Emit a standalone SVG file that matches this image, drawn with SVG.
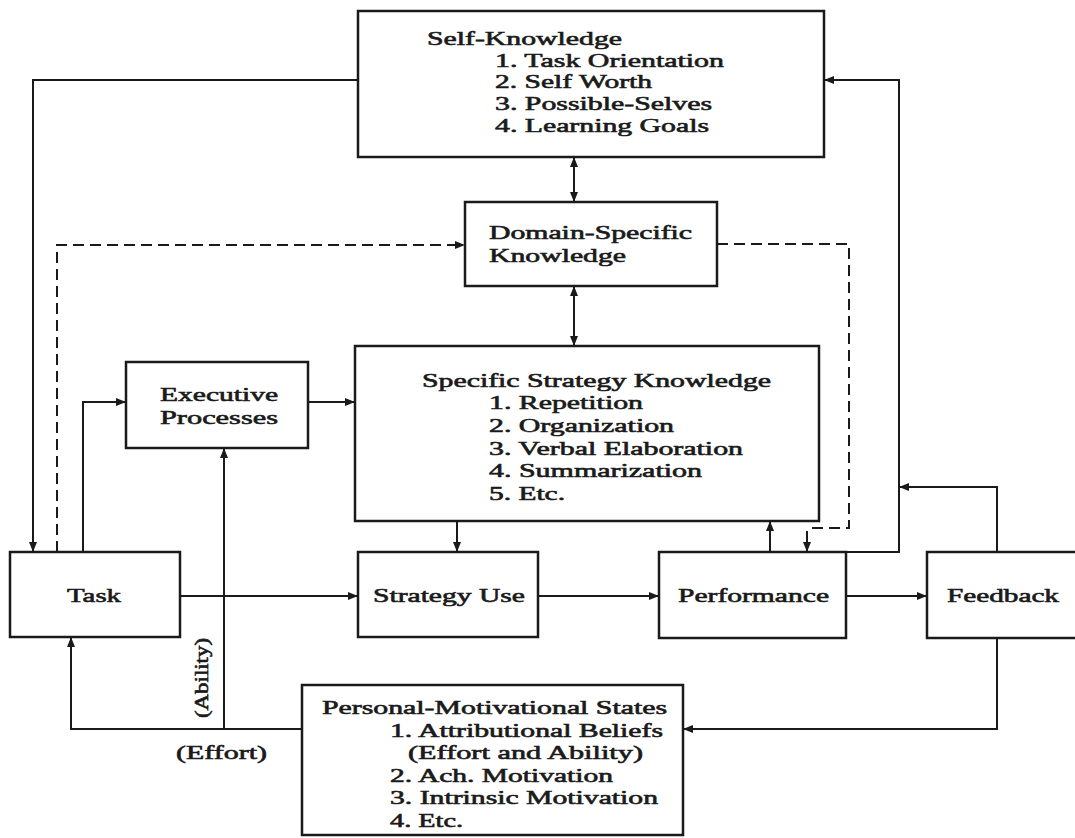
<svg xmlns="http://www.w3.org/2000/svg" width="1075" height="838" viewBox="0 0 1075 838">
<style>
.box{fill:#fff;stroke:#1a1a1a;stroke-width:2.5}
.ln{fill:none;stroke:#1a1a1a;stroke-width:2}
.dash{stroke-dasharray:11 6}
text{font-family:"Liberation Serif","Times New Roman",serif;font-size:19px;font-weight:normal;fill:#1a1a1a;stroke:#1a1a1a;stroke-width:0.6}
</style>
<defs>
<marker id="ah" viewBox="0 0 10 8" markerWidth="10" markerHeight="8" refX="10" refY="4" orient="auto-start-reverse" markerUnits="userSpaceOnUse">
<path d="M0,0 L10,4 L0,8 z" fill="#1a1a1a"/>
</marker>
</defs>
<rect width="1075" height="838" fill="#fff"/>
<g id="connectors">
<path class="ln" d="M358,80 H33 V552" marker-end="url(#ah)"/>
<path class="ln dash" d="M57,552 V245 H465" marker-end="url(#ah)"/>
<path class="ln" d="M83,552 V402 H126" marker-end="url(#ah)"/>
<path class="ln" d="M308,402 H355" marker-end="url(#ah)"/>
<path class="ln" d="M574,157 V202" marker-start="url(#ah)" marker-end="url(#ah)"/>
<path class="ln" d="M574,286 V346" marker-start="url(#ah)" marker-end="url(#ah)"/>
<path class="ln dash" d="M717,244 H849 V528 H812"/>
<path class="ln" d="M807,531 V552" marker-end="url(#ah)"/>
<path class="ln" d="M770,552 V521" marker-end="url(#ah)"/>
<path class="ln" d="M457,521 V552" marker-end="url(#ah)"/>
<path class="ln" d="M180,596 H358" marker-end="url(#ah)"/>
<path class="ln" d="M538,596 H659" marker-end="url(#ah)"/>
<path class="ln" d="M846,596 H927" marker-end="url(#ah)"/>
<path class="ln" d="M846,552 H899 V80 H824" marker-end="url(#ah)"/>
<path class="ln" d="M997,552 V487 H899" marker-end="url(#ah)"/>
<path class="ln" d="M997,638 V729 H683" marker-end="url(#ah)"/>
<path class="ln" d="M302,729 H71 V637" marker-end="url(#ah)"/>
<path class="ln" d="M224,729 V448" marker-end="url(#ah)"/>
<text x="176" y="759" textLength="91" lengthAdjust="spacingAndGlyphs">(Effort)</text>
<text transform="translate(208,718) rotate(-90)" x="0" y="0" textLength="80" lengthAdjust="spacingAndGlyphs">(Ability)</text>
</g>
<g id="self-knowledge">
<rect class="box" x="358" y="11" width="466" height="146"/>
<text x="427" y="45" textLength="195" lengthAdjust="spacingAndGlyphs">Self-Knowledge</text>
<text x="495" y="67" textLength="229" lengthAdjust="spacingAndGlyphs">1. Task Orientation</text>
<text x="495" y="88" textLength="157" lengthAdjust="spacingAndGlyphs">2. Self Worth</text>
<text x="495" y="110" textLength="217" lengthAdjust="spacingAndGlyphs">3. Possible-Selves</text>
<text x="495" y="132" textLength="214" lengthAdjust="spacingAndGlyphs">4. Learning Goals</text>
</g>
<g id="domain-specific-knowledge">
<rect class="box" x="465" y="202" width="252" height="84"/>
<text x="489" y="239" textLength="203" lengthAdjust="spacingAndGlyphs">Domain-Specific</text>
<text x="489" y="262" textLength="137" lengthAdjust="spacingAndGlyphs">Knowledge</text>
</g>
<g id="executive-processes">
<rect class="box" x="126" y="362" width="182" height="86"/>
<text x="160" y="401" textLength="118" lengthAdjust="spacingAndGlyphs">Executive</text>
<text x="160" y="424" textLength="118" lengthAdjust="spacingAndGlyphs">Processes</text>
</g>
<g id="specific-strategy-knowledge">
<rect class="box" x="355" y="346" width="464" height="175"/>
<text x="422" y="387" textLength="349" lengthAdjust="spacingAndGlyphs">Specific Strategy Knowledge</text>
<text x="489" y="409" textLength="154" lengthAdjust="spacingAndGlyphs">1. Repetition</text>
<text x="489" y="432" textLength="185" lengthAdjust="spacingAndGlyphs">2. Organization</text>
<text x="489" y="455" textLength="254" lengthAdjust="spacingAndGlyphs">3. Verbal Elaboration</text>
<text x="489" y="477" textLength="213" lengthAdjust="spacingAndGlyphs">4. Summarization</text>
<text x="489" y="500" textLength="76" lengthAdjust="spacingAndGlyphs">5. Etc.</text>
</g>
<g id="task">
<rect class="box" x="10" y="552" width="170" height="85"/>
<text x="67" y="602" textLength="54" lengthAdjust="spacingAndGlyphs">Task</text>
</g>
<g id="strategy-use">
<rect class="box" x="358" y="552" width="180" height="85"/>
<text x="373" y="602" textLength="152" lengthAdjust="spacingAndGlyphs">Strategy Use</text>
</g>
<g id="performance">
<rect class="box" x="659" y="552" width="187" height="86"/>
<text x="678" y="602" textLength="151" lengthAdjust="spacingAndGlyphs">Performance</text>
</g>
<g id="feedback">
<rect class="box" x="927" y="552" width="160" height="86"/>
<text x="947" y="602" textLength="112" lengthAdjust="spacingAndGlyphs">Feedback</text>
</g>
<g id="personal-motivational-states">
<rect class="box" x="302" y="685" width="381" height="150"/>
<text x="322" y="714" textLength="345" lengthAdjust="spacingAndGlyphs">Personal-Motivational States</text>
<text x="390" y="737" textLength="273" lengthAdjust="spacingAndGlyphs">1. Attributional Beliefs</text>
<text x="408" y="759" textLength="235" lengthAdjust="spacingAndGlyphs">(Effort and Ability)</text>
<text x="390" y="782" textLength="223" lengthAdjust="spacingAndGlyphs">2. Ach. Motivation</text>
<text x="390" y="804" textLength="268" lengthAdjust="spacingAndGlyphs">3. Intrinsic Motivation</text>
<text x="390" y="827" textLength="73" lengthAdjust="spacingAndGlyphs">4. Etc.</text>
</g>
</svg>
